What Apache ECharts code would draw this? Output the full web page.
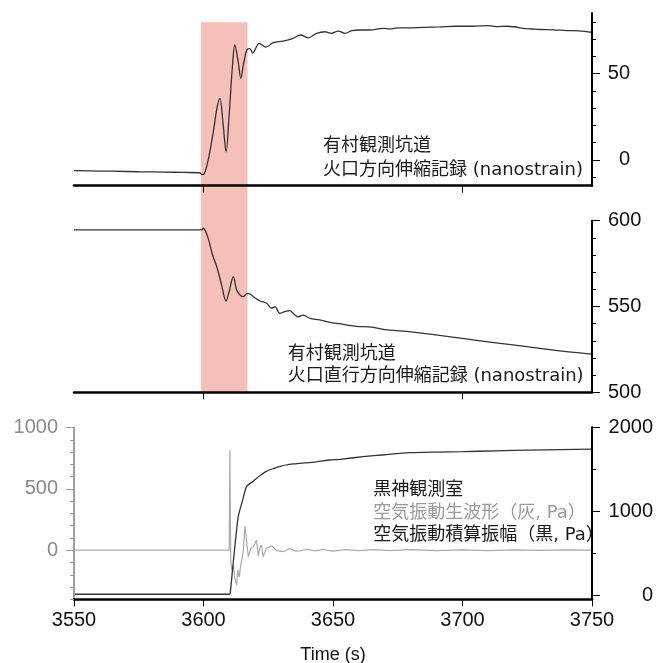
<!DOCTYPE html>
<html>
<head>
<meta charset="utf-8">
<script src="https://cdn.jsdelivr.net/npm/echarts@6/dist/echarts.min.js"></script>
<style>
html,body{margin:0;padding:0;background:#fff;}
#chart{width:670px;height:663px;}
</style>
</head>
<body>
<div id="chart"></div>
<script>
// ---- Data (time in s) ----
// Panel 1: 有村観測坑道 火口方向伸縮記録 (nanostrain)
const radialTime = [3550,3560,3565,3575,3585,3592,3598.5,3599.5,3600.6,3602.2,3603.8,3605.2,3606.3,3607.6,3608.7,3609.9,3611.2,3612.1,3613.4,3614.4,3615.6,3617,3617.9,3619,3621.5,3624.1,3626.9,3630.8,3634.6,3637.5,3640.4,3643.7,3646.9,3649.4,3652,3654.6,3657.2,3660.4,3664.2,3669.4,3672,3675,3678.4,3685,3691.2,3697,3704.1,3710,3713,3717,3720,3723.4,3727,3729.8,3735,3740.1,3745,3750];
const radialStrain = [-6.3,-6.5,-6.6,-6.9,-7.1,-7.3,-7.5,-8.6,-6.9,2.8,16.3,30,35.7,20.2,4.7,26,55,66.6,56.9,47.3,56.9,64.3,64.5,61.9,67.6,65.4,68,68.9,70.5,72.4,70.8,73.4,74.3,73.4,74.7,73.4,74.9,75.3,75.3,76.3,76.0,76.6,76.5,76.8,77.1,77.5,77.5,77.8,77.3,77.5,77.2,76.2,75.9,75.6,75.4,75,74.8,74];

// Panel 2: 有村観測坑道 火口直行方向伸縮記録 (nanostrain)
const tangTime = [3550,3599.2,3599.9,3601.8,3603.5,3605.3,3607.0,3608.7,3609.9,3611.5,3612.8,3614.1,3615.3,3616.9,3617.9,3619.8,3621.8,3624.4,3626.3,3627.6,3629.5,3631.4,3633.4,3634.6,3636.6,3638.5,3641.1,3644.9,3648.8,3653.9,3659.1,3665,3670,3678.4,3691.2,3704.1,3717,3729.8,3740.1,3750];
const tangStrain = [594.6,594.6,595.6,589.7,580,572.3,562.5,553.2,558.6,567.4,559.6,556.7,555.7,557.7,557.3,555.1,553.2,551.9,549,549.9,546,547,547.6,546,544,545,543.1,542.2,540.8,539.6,538.4,538,536.5,535.5,533.2,530.5,528.1,525.6,523.7,522.3];

// Panel 3: 黒神観測室 空気振動生波形 (gray, Pa, left axis)
const waveTime = [3550,3609.9,3610.2,3610.5,3610.9,3611.5,3612.1,3612.8,3613.3,3613.8,3614.3,3614.8,3615.3,3616,3617.3,3617.7,3618.4,3619.2,3620.5,3621.1,3621.8,3622.4,3623,3624.3,3626.3,3628.2,3630.8,3633.3,3635.5,3637.2,3640,3643,3646,3650,3655,3660,3666,3672,3680,3690,3700,3710,3720,3730,3740,3750];
const wavePa = [0,0,817,-80,-161,-120,-230,-284,-160,-220,-134,-140,-20,197,-53,-40,20,29,83,-47,20,42,-53,15,37,-4,-12,14,-8,-6,8,-5,6,-7,5,-4,5,-3,4,-3,3,-4,3,-2,2,0];

// Panel 3: 空気振動積算振幅 (black, Pa, right axis)
const cumTime = [3550,3609.9,3610.3,3611.2,3612.1,3613.4,3615.3,3616.6,3619.2,3622,3624.4,3627,3630,3634.6,3637.2,3643.6,3648.8,3652.6,3661.6,3670,3679.6,3690,3700.2,3713,3726,3738,3750];
const cumPa = [10,10,20,300,578,936,1155,1294,1360,1430,1480,1510,1540,1565,1573,1590,1612,1620,1652,1675,1699,1706,1711,1722,1731,1737,1743];

// Highlight band (s)
const bandStart = 3599;
const bandEnd = 3617;

// Tick values
const xTicksUpper = [3600, 3700];
const p1MinorTicks = [-10,0,10,20,30,40,50,60,70,80];
const p1MajorTicks = [0,50];
const p3LeftMajor = [0,500,1000];
const p3RightMinor = [500,1500];
const p3RightMajor = [0,1000,2000];

const zip = (a, b) => a.map((v, i) => [v, b[i]]);
const plain = v => String(v);

const numFont = '"Liberation Sans", Arial, sans-serif';
const txtFont = '"DejaVu Sans", "Noto Sans CJK JP", sans-serif';

const G = {left: 74, width: 518};
const grids = [
  {left: G.left, width: G.width, top: 13.3, height: 172.4, outerBoundsMode: 'none'},
  {left: G.left, width: G.width, top: 220.7, height: 171.6, outerBoundsMode: 'none'},
  {left: G.left, width: G.width, top: 427.5, height: 171.8, outerBoundsMode: 'none'},
  {left: G.left, width: G.width, top: 22.3, height: 370, outerBoundsMode: 'none'}
];

function xAx(gi, extra) {
  return Object.assign({
    type: 'value', gridIndex: gi, min: 3550, max: 3750, z: 5,
    axisLine: {show: true, onZero: false, lineStyle: {color: '#000', width: 2.5}},
    axisTick: {show: true, inside: false, length: 7, customValues: xTicksUpper, lineStyle: {color: '#000', width: 1}},
    axisLabel: {show: false},
    splitLine: {show: false}
  }, extra || {});
}

const xAxes = [
  xAx(0),
  xAx(1),
  xAx(2, {
    interval: 50,
    axisTick: {show: true, inside: false, length: 7, lineStyle: {color: '#000', width: 1}},
    axisLabel: {show: true, formatter: plain, fontSize: 20, fontFamily: numFont, color: '#111', margin: 11},
    name: 'Time (s)', nameLocation: 'middle', nameGap: 47,
    nameTextStyle: {fontSize: 18, fontFamily: numFont, color: '#111'}
  }),
  {type: 'value', gridIndex: 3, min: 3550, max: 3750, show: false}
];

function yAx(o) {
  const base = {
    type: 'value', z: 5, splitLine: {show: false},
    axisLine: {show: true, onZero: false, lineStyle: {color: '#000', width: 2}},
    axisTick: {show: true, inside: false, length: 4, lineStyle: {color: '#000', width: 1}},
    axisLabel: {show: false}
  };
  return Object.assign(base, o);
}

const yAxes = [
  // panel 1
  yAx({gridIndex: 0, position: 'right', min: -15, max: 85,
    axisTick: {show: true, length: 4, customValues: p1MinorTicks, lineStyle: {color: '#000', width: 1}}}),
  yAx({gridIndex: 0, position: 'right', min: -15, max: 85,
    axisTick: {show: true, length: 8, customValues: p1MajorTicks, lineStyle: {color: '#000', width: 1}},
    axisLabel: {show: true, customValues: p1MajorTicks, formatter: plain, align: 'right', margin: 38, fontSize: 20, fontFamily: numFont, color: '#111'}}),
  // panel 2
  yAx({gridIndex: 1, position: 'right', min: 500, max: 600, interval: 10}),
  yAx({gridIndex: 1, position: 'right', min: 500, max: 600, interval: 50,
    axisTick: {show: true, length: 8, lineStyle: {color: '#000', width: 1}},
    axisLabel: {show: true, formatter: plain, margin: 16, fontSize: 20, fontFamily: numFont, color: '#111', showMinLabel: true, showMaxLabel: true}}),
  // panel 3 left (gray)
  yAx({gridIndex: 2, position: 'left', min: -400, max: 1000, interval: 100,
    axisLine: {show: true, onZero: false, lineStyle: {color: '#999', width: 1.5}},
    axisTick: {show: true, length: 4, lineStyle: {color: '#999', width: 1}}}),
  yAx({gridIndex: 2, position: 'left', min: -400, max: 1000,
    axisLine: {show: true, onZero: false, lineStyle: {color: '#999', width: 1.5}},
    axisTick: {show: true, length: 8, customValues: p3LeftMajor, lineStyle: {color: '#999', width: 1}},
    axisLabel: {show: true, customValues: p3LeftMajor, formatter: plain, margin: 16, fontSize: 20, fontFamily: numFont, color: '#8a8a8a'}}),
  // panel 3 right (black)
  yAx({gridIndex: 2, position: 'right', min: -50, max: 2000,
    axisTick: {show: true, length: 4, customValues: p3RightMinor, lineStyle: {color: '#000', width: 1}}}),
  yAx({gridIndex: 2, position: 'right', min: -50, max: 2000,
    axisTick: {show: true, length: 8, customValues: p3RightMajor, lineStyle: {color: '#000', width: 1}},
    axisLabel: {show: true, customValues: p3RightMajor, formatter: plain, align: 'right', margin: 61, fontSize: 20, fontFamily: numFont, color: '#111'}}),
  // band grid
  {type: 'value', gridIndex: 3, min: 0, max: 1, show: false}
];

function lineSeries(xi, yi, data, color, width, smooth) {
  return {
    type: 'line', xAxisIndex: xi, yAxisIndex: yi, data: data,
    showSymbol: false, symbol: 'none', smooth: smooth, z: 4,
    lineStyle: {color: color, width: width}, silent: true
  };
}

const series = [
  {
    type: 'line', xAxisIndex: 3, yAxisIndex: 8, data: [], z: 1, silent: true,
    markArea: {
      silent: true,
      itemStyle: {color: '#f5bfba', opacity: 1},
      data: [[{xAxis: bandStart, yAxis: 0}, {xAxis: bandEnd, yAxis: 1}]]
    }
  },
  lineSeries(0, 0, zip(radialTime, radialStrain), '#333', 1.3, 0.35),
  lineSeries(1, 2, zip(tangTime, tangStrain), '#333', 1.3, 0.35),
  lineSeries(2, 4, zip(waveTime, wavePa), '#aaa', 1.2, false),
  lineSeries(2, 6, zip(cumTime, cumPa), '#333', 1.3, 0.2)
];

function txt(x, y, s, color) {
  return {type: 'text', x: x, y: y, z: 10, silent: true,
    style: {text: s, font: '18px ' + txtFont, fill: color || '#1a1a1a', verticalAlign: 'middle', align: 'left'}};
}

const graphics = [
  txt(323, 146.7, '有村観測坑道'),
  txt(323, 170, '火口方向伸縮記録 (nanostrain)'),
  txt(287.7, 354.3, '有村観測坑道'),
  txt(287.7, 376.7, '火口直行方向伸縮記録 (nanostrain)'),
  txt(373.3, 490.7, '黒神観測室'),
  txt(373.3, 513.3, '空気振動生波形（灰, Pa）', '#9a9a9a'),
  txt(373.3, 535, '空気振動積算振幅（黒, Pa）')
];

const chart = echarts.init(document.getElementById('chart'), null, {renderer: 'canvas'});
chart.setOption({
  animation: false,
  backgroundColor: '#fff',
  grid: grids,
  xAxis: xAxes,
  yAxis: yAxes,
  series: series,
  graphic: graphics
});
</script>
</body>
</html>
